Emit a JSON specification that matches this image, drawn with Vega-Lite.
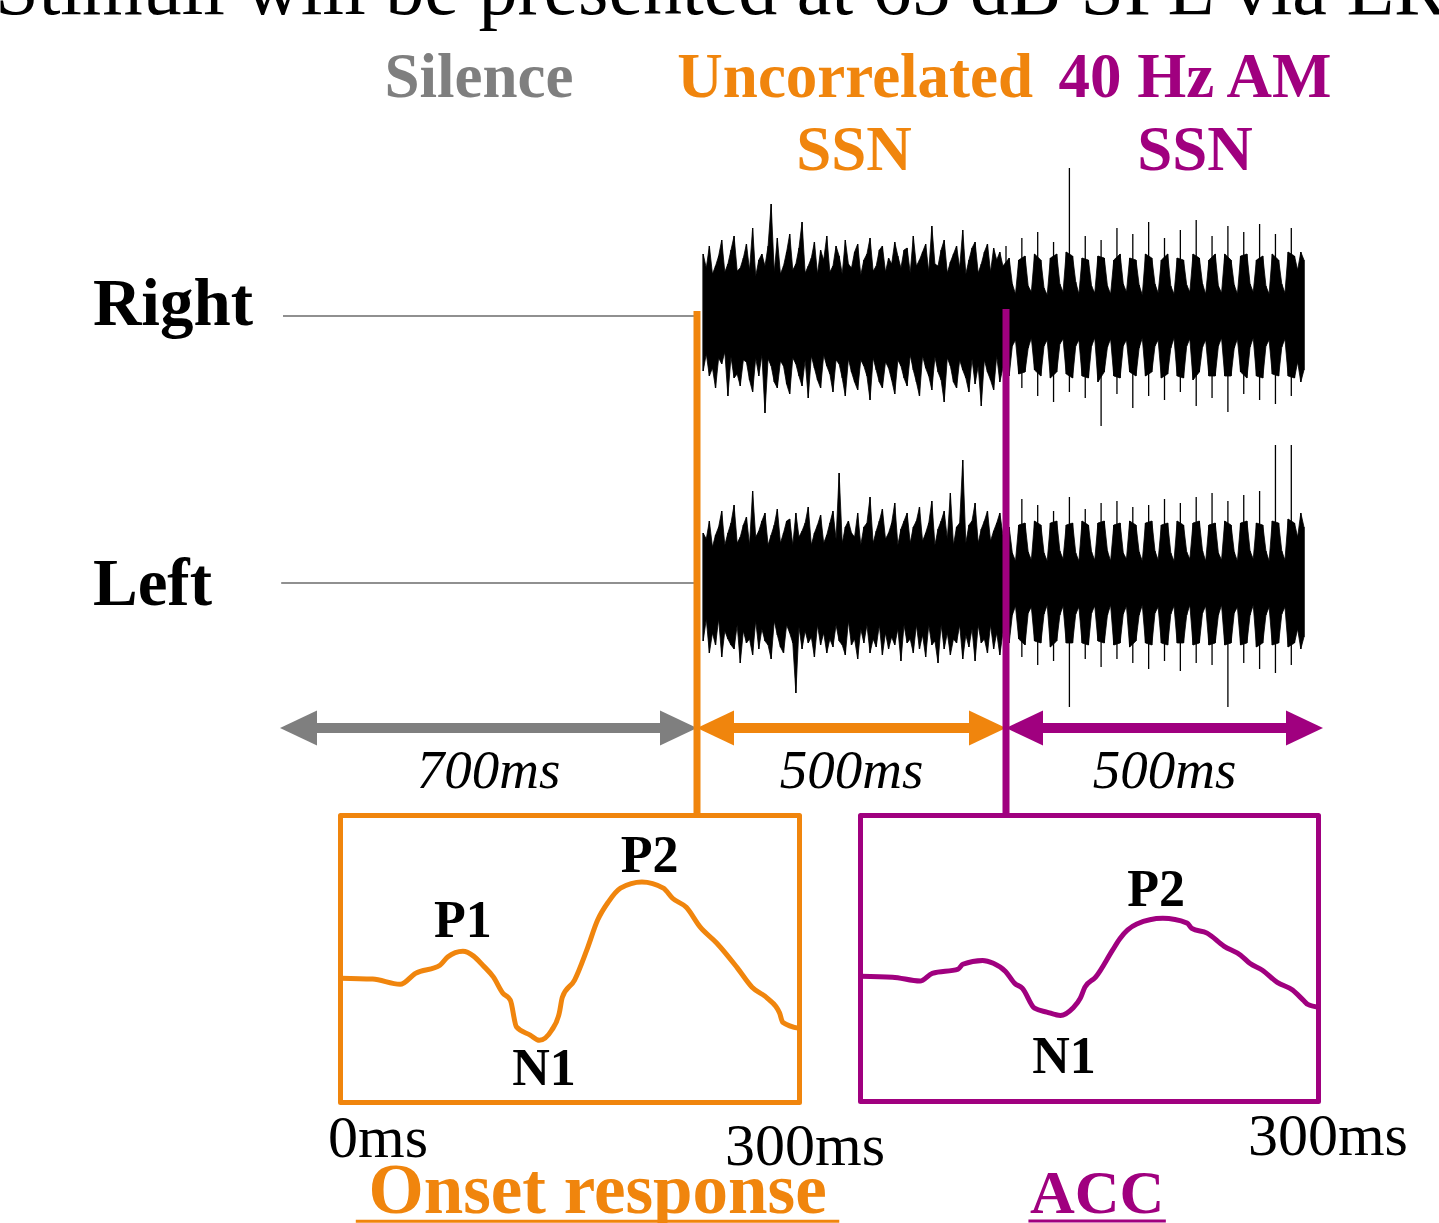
{
"$schema": "https://vega.github.io/schema/vega-lite/v6.json",
"width": 1439, "height": 1223, "padding": 0, "autosize": {"type": "none"},
"background": "white",
"config": {"view": {"stroke": null}, "text": {"font": "Liberation Serif"}},
"resolve": {"scale": {"x": "independent", "y": "independent", "color": "independent", "shape": "independent"}},
"datasets": {
"noise": [
{"ch":"R","t":710,"hi":0.62,"lo":-0.55},{"ch":"R","t":715,"hi":0.48,"lo":-0.38},{"ch":"R","t":720,"hi":0.70,"lo":-0.60},{"ch":"R","t":725,"hi":0.42,"lo":-0.52},{"ch":"R","t":730,"hi":0.50,"lo":-0.72},{"ch":"R","t":735,"hi":0.60,"lo":-0.42},{"ch":"R","t":740,"hi":0.76,"lo":-0.48},{"ch":"R","t":745,"hi":0.44,"lo":-0.36},{"ch":"R","t":750,"hi":0.52,"lo":-0.80},{"ch":"R","t":755,"hi":0.66,"lo":-0.41},
{"ch":"R","t":760,"hi":0.80,"lo":-0.62},{"ch":"R","t":765,"hi":0.45,"lo":-0.58},{"ch":"R","t":770,"hi":0.48,"lo":-0.70},{"ch":"R","t":775,"hi":0.58,"lo":-0.44},{"ch":"R","t":780,"hi":0.72,"lo":-0.46},{"ch":"R","t":785,"hi":0.46,"lo":-0.64},{"ch":"R","t":790,"hi":0.88,"lo":-0.76},{"ch":"R","t":795,"hi":0.40,"lo":-0.42},{"ch":"R","t":800,"hi":0.56,"lo":-0.60},{"ch":"R","t":805,"hi":0.62,"lo":-0.39},
{"ch":"R","t":810,"hi":0.50,"lo":-0.97},{"ch":"R","t":815,"hi":0.70,"lo":-0.43},{"ch":"R","t":820,"hi":1.12,"lo":-0.50},{"ch":"R","t":825,"hi":0.44,"lo":-0.66},{"ch":"R","t":830,"hi":0.78,"lo":-0.72},{"ch":"R","t":835,"hi":0.42,"lo":-0.45},{"ch":"R","t":840,"hi":0.50,"lo":-0.50},{"ch":"R","t":845,"hi":0.64,"lo":-0.68},{"ch":"R","t":850,"hi":0.82,"lo":-0.78},{"ch":"R","t":855,"hi":0.46,"lo":-0.42},
{"ch":"R","t":860,"hi":0.52,"lo":-0.48},{"ch":"R","t":865,"hi":0.68,"lo":-0.60},{"ch":"R","t":870,"hi":0.94,"lo":-0.70},{"ch":"R","t":875,"hi":0.43,"lo":-0.44},{"ch":"R","t":880,"hi":0.50,"lo":-0.82},{"ch":"R","t":885,"hi":0.58,"lo":-0.40},{"ch":"R","t":890,"hi":0.74,"lo":-0.52},{"ch":"R","t":895,"hi":0.42,"lo":-0.64},{"ch":"R","t":900,"hi":0.66,"lo":-0.72},{"ch":"R","t":905,"hi":0.56,"lo":-0.39},
{"ch":"R","t":910,"hi":0.80,"lo":-0.50},{"ch":"R","t":915,"hi":0.44,"lo":-0.58},{"ch":"R","t":920,"hi":0.50,"lo":-0.76},{"ch":"R","t":925,"hi":0.70,"lo":-0.44},{"ch":"R","t":930,"hi":0.60,"lo":-0.48},{"ch":"R","t":935,"hi":0.42,"lo":-0.62},{"ch":"R","t":940,"hi":0.76,"lo":-0.80},{"ch":"R","t":945,"hi":0.52,"lo":-0.43},{"ch":"R","t":950,"hi":0.48,"lo":-0.56},{"ch":"R","t":955,"hi":0.64,"lo":-0.66},
{"ch":"R","t":960,"hi":0.72,"lo":-0.74},{"ch":"R","t":965,"hi":0.41,"lo":-0.44},{"ch":"R","t":970,"hi":0.56,"lo":-0.50},{"ch":"R","t":975,"hi":0.62,"lo":-0.60},{"ch":"R","t":980,"hi":0.78,"lo":-0.84},{"ch":"R","t":985,"hi":0.45,"lo":-0.42},{"ch":"R","t":990,"hi":0.50,"lo":-0.54},{"ch":"R","t":995,"hi":0.66,"lo":-0.66},{"ch":"R","t":1000,"hi":0.70,"lo":-0.72},{"ch":"R","t":1005,"hi":0.44,"lo":-0.46},
{"ch":"R","t":1010,"hi":0.58,"lo":-0.52},{"ch":"R","t":1015,"hi":0.52,"lo":-0.64},{"ch":"R","t":1020,"hi":0.74,"lo":-0.78},{"ch":"R","t":1025,"hi":0.60,"lo":-0.44},{"ch":"R","t":1030,"hi":0.48,"lo":-0.50},{"ch":"R","t":1035,"hi":0.66,"lo":-0.62},{"ch":"R","t":1040,"hi":0.68,"lo":-0.70},{"ch":"R","t":1045,"hi":0.43,"lo":-0.39},{"ch":"R","t":1050,"hi":0.80,"lo":-0.54},{"ch":"R","t":1055,"hi":0.50,"lo":-0.66},
{"ch":"R","t":1060,"hi":0.56,"lo":-0.80},{"ch":"R","t":1065,"hi":0.64,"lo":-0.40},{"ch":"R","t":1070,"hi":0.72,"lo":-0.52},{"ch":"R","t":1075,"hi":0.44,"lo":-0.60},{"ch":"R","t":1080,"hi":0.90,"lo":-0.74},{"ch":"R","t":1085,"hi":0.52,"lo":-0.41},{"ch":"R","t":1090,"hi":0.50,"lo":-0.56},{"ch":"R","t":1095,"hi":0.66,"lo":-0.64},{"ch":"R","t":1100,"hi":0.76,"lo":-0.86},{"ch":"R","t":1105,"hi":0.43,"lo":-0.42},
{"ch":"R","t":1110,"hi":0.54,"lo":-0.50},{"ch":"R","t":1115,"hi":0.62,"lo":-0.66},{"ch":"R","t":1120,"hi":0.70,"lo":-0.72},{"ch":"R","t":1125,"hi":0.48,"lo":-0.44},{"ch":"R","t":1130,"hi":0.86,"lo":-0.54},{"ch":"R","t":1135,"hi":0.42,"lo":-0.62},{"ch":"R","t":1140,"hi":0.56,"lo":-0.76},{"ch":"R","t":1145,"hi":0.68,"lo":-0.43},{"ch":"R","t":1150,"hi":0.74,"lo":-0.68},{"ch":"R","t":1155,"hi":0.43,"lo":-0.50},
{"ch":"R","t":1160,"hi":0.52,"lo":-0.90},{"ch":"R","t":1165,"hi":0.64,"lo":-0.44},{"ch":"R","t":1170,"hi":0.72,"lo":-0.56},{"ch":"R","t":1175,"hi":0.44,"lo":-0.64},{"ch":"R","t":1180,"hi":0.68,"lo":-0.74},{"ch":"R","t":1185,"hi":0.56,"lo":-0.40},{"ch":"R","t":1190,"hi":0.64,"lo":-0.66},{"ch":"R","t":1195,"hi":0.50,"lo":-0.52},
{"ch":"R","t":1200,"hi":0.70,"lo":-0.66},{"ch":"R","t":1205,"hi":0.58,"lo":-0.60},{"ch":"R","t":1210,"hi":0.32,"lo":-0.30},{"ch":"R","t":1215,"hi":0.22,"lo":-0.24},{"ch":"R","t":1220,"hi":0.56,"lo":-0.58},{"ch":"R","t":1225,"hi":0.78,"lo":-0.72},{"ch":"R","t":1230,"hi":0.60,"lo":-0.56},{"ch":"R","t":1235,"hi":0.30,"lo":-0.32},{"ch":"R","t":1240,"hi":0.24,"lo":-0.22},{"ch":"R","t":1245,"hi":0.62,"lo":-0.54},
{"ch":"R","t":1250,"hi":0.84,"lo":-0.80},{"ch":"R","t":1255,"hi":0.56,"lo":-0.60},{"ch":"R","t":1260,"hi":0.28,"lo":-0.30},{"ch":"R","t":1265,"hi":0.21,"lo":-0.24},{"ch":"R","t":1270,"hi":0.58,"lo":-0.62},{"ch":"R","t":1275,"hi":0.74,"lo":-0.86},{"ch":"R","t":1280,"hi":0.62,"lo":-0.56},{"ch":"R","t":1285,"hi":0.32,"lo":-0.28},{"ch":"R","t":1290,"hi":0.24,"lo":-0.23},{"ch":"R","t":1295,"hi":0.64,"lo":-0.58},
{"ch":"R","t":1300,"hi":1.48,"lo":-0.76},{"ch":"R","t":1305,"hi":0.60,"lo":-0.62},{"ch":"R","t":1310,"hi":0.34,"lo":-0.30},{"ch":"R","t":1315,"hi":0.22,"lo":-0.24},{"ch":"R","t":1320,"hi":0.58,"lo":-0.60},{"ch":"R","t":1325,"hi":0.80,"lo":-0.82},{"ch":"R","t":1330,"hi":0.56,"lo":-0.62},{"ch":"R","t":1335,"hi":0.30,"lo":-0.30},{"ch":"R","t":1340,"hi":0.23,"lo":-0.22},{"ch":"R","t":1345,"hi":0.60,"lo":-0.66},
{"ch":"R","t":1350,"hi":0.76,"lo":-1.10},{"ch":"R","t":1355,"hi":0.58,"lo":-0.56},{"ch":"R","t":1360,"hi":0.30,"lo":-0.31},{"ch":"R","t":1365,"hi":0.22,"lo":-0.23},{"ch":"R","t":1370,"hi":0.56,"lo":-0.60},{"ch":"R","t":1375,"hi":0.88,"lo":-0.78},{"ch":"R","t":1380,"hi":0.62,"lo":-0.62},{"ch":"R","t":1385,"hi":0.32,"lo":-0.30},{"ch":"R","t":1390,"hi":0.24,"lo":-0.24},{"ch":"R","t":1395,"hi":0.58,"lo":-0.56},
{"ch":"R","t":1400,"hi":0.82,"lo":-0.92},{"ch":"R","t":1405,"hi":0.56,"lo":-0.60},{"ch":"R","t":1410,"hi":0.31,"lo":-0.32},{"ch":"R","t":1415,"hi":0.21,"lo":-0.22},{"ch":"R","t":1420,"hi":0.62,"lo":-0.60},{"ch":"R","t":1425,"hi":0.94,"lo":-0.80},{"ch":"R","t":1430,"hi":0.58,"lo":-0.56},{"ch":"R","t":1435,"hi":0.32,"lo":-0.30},{"ch":"R","t":1440,"hi":0.23,"lo":-0.24},{"ch":"R","t":1445,"hi":0.56,"lo":-0.62},
{"ch":"R","t":1450,"hi":0.78,"lo":-0.84},{"ch":"R","t":1455,"hi":0.62,"lo":-0.58},{"ch":"R","t":1460,"hi":0.30,"lo":-0.32},{"ch":"R","t":1465,"hi":0.22,"lo":-0.22},{"ch":"R","t":1470,"hi":0.58,"lo":-0.60},{"ch":"R","t":1475,"hi":0.86,"lo":-0.76},{"ch":"R","t":1480,"hi":0.56,"lo":-0.62},{"ch":"R","t":1485,"hi":0.31,"lo":-0.30},{"ch":"R","t":1490,"hi":0.24,"lo":-0.23},{"ch":"R","t":1495,"hi":0.62,"lo":-0.64},
{"ch":"R","t":1500,"hi":0.96,"lo":-0.90},{"ch":"R","t":1505,"hi":0.58,"lo":-0.56},{"ch":"R","t":1510,"hi":0.32,"lo":-0.31},{"ch":"R","t":1515,"hi":0.22,"lo":-0.24},{"ch":"R","t":1520,"hi":0.56,"lo":-0.60},{"ch":"R","t":1525,"hi":0.80,"lo":-0.82},{"ch":"R","t":1530,"hi":0.62,"lo":-0.60},{"ch":"R","t":1535,"hi":0.30,"lo":-0.30},{"ch":"R","t":1540,"hi":0.23,"lo":-0.22},{"ch":"R","t":1545,"hi":0.62,"lo":-0.60},
{"ch":"R","t":1550,"hi":0.90,"lo":-0.96},{"ch":"R","t":1555,"hi":0.56,"lo":-0.60},{"ch":"R","t":1560,"hi":0.31,"lo":-0.32},{"ch":"R","t":1565,"hi":0.22,"lo":-0.23},{"ch":"R","t":1570,"hi":0.60,"lo":-0.56},{"ch":"R","t":1575,"hi":0.84,"lo":-0.78},{"ch":"R","t":1580,"hi":0.62,"lo":-0.62},{"ch":"R","t":1585,"hi":0.32,"lo":-0.31},{"ch":"R","t":1590,"hi":0.24,"lo":-0.22},{"ch":"R","t":1595,"hi":0.56,"lo":-0.60},
{"ch":"R","t":1600,"hi":0.92,"lo":-0.84},{"ch":"R","t":1605,"hi":0.60,"lo":-0.62},{"ch":"R","t":1610,"hi":0.30,"lo":-0.30},{"ch":"R","t":1615,"hi":0.22,"lo":-0.24},{"ch":"R","t":1620,"hi":0.62,"lo":-0.58},{"ch":"R","t":1625,"hi":0.82,"lo":-0.88},{"ch":"R","t":1630,"hi":0.56,"lo":-0.60},{"ch":"R","t":1635,"hi":0.32,"lo":-0.31},{"ch":"R","t":1640,"hi":0.23,"lo":-0.23},{"ch":"R","t":1645,"hi":0.64,"lo":-0.60},
{"ch":"R","t":1650,"hi":0.88,"lo":-0.80},{"ch":"R","t":1655,"hi":0.60,"lo":-0.62},{"ch":"R","t":1660,"hi":0.46,"lo":-0.46},{"ch":"R","t":1665,"hi":0.64,"lo":-0.66},{"ch":"R","t":1670,"hi":0.56,"lo":-0.54},
{"ch":"L","t":710,"hi":0.50,"lo":-0.58},{"ch":"L","t":715,"hi":0.44,"lo":-0.36},{"ch":"L","t":720,"hi":0.62,"lo":-0.70},{"ch":"L","t":725,"hi":0.36,"lo":-0.50},{"ch":"L","t":730,"hi":0.48,"lo":-0.62},{"ch":"L","t":735,"hi":0.56,"lo":-0.36},{"ch":"L","t":740,"hi":0.72,"lo":-0.74},{"ch":"L","t":745,"hi":0.38,"lo":-0.48},{"ch":"L","t":750,"hi":0.50,"lo":-0.56},{"ch":"L","t":755,"hi":0.60,"lo":-0.62},
{"ch":"L","t":760,"hi":0.78,"lo":-0.66},{"ch":"L","t":765,"hi":0.40,"lo":-0.42},{"ch":"L","t":770,"hi":0.46,"lo":-0.80},{"ch":"L","t":775,"hi":0.58,"lo":-0.48},{"ch":"L","t":780,"hi":0.66,"lo":-0.60},{"ch":"L","t":785,"hi":0.38,"lo":-0.56},{"ch":"L","t":790,"hi":0.92,"lo":-0.72},{"ch":"L","t":795,"hi":0.46,"lo":-0.38},{"ch":"L","t":800,"hi":0.52,"lo":-0.66},{"ch":"L","t":805,"hi":0.62,"lo":-0.46},
{"ch":"L","t":810,"hi":0.70,"lo":-0.58},{"ch":"L","t":815,"hi":0.38,"lo":-0.62},{"ch":"L","t":820,"hi":0.48,"lo":-0.76},{"ch":"L","t":825,"hi":0.58,"lo":-0.38},{"ch":"L","t":830,"hi":0.74,"lo":-0.52},{"ch":"L","t":835,"hi":0.40,"lo":-0.64},{"ch":"L","t":840,"hi":0.50,"lo":-0.70},{"ch":"L","t":845,"hi":0.62,"lo":-0.42},{"ch":"L","t":850,"hi":0.64,"lo":-0.50},{"ch":"L","t":855,"hi":0.38,"lo":-0.60},
{"ch":"L","t":860,"hi":0.70,"lo":-1.10},{"ch":"L","t":865,"hi":0.46,"lo":-0.44},{"ch":"L","t":870,"hi":0.52,"lo":-0.66},{"ch":"L","t":875,"hi":0.60,"lo":-0.48},{"ch":"L","t":880,"hi":0.76,"lo":-0.60},{"ch":"L","t":885,"hi":0.38,"lo":-0.54},{"ch":"L","t":890,"hi":0.50,"lo":-0.74},{"ch":"L","t":895,"hi":0.58,"lo":-0.42},{"ch":"L","t":900,"hi":0.68,"lo":-0.62},{"ch":"L","t":905,"hi":0.40,"lo":-0.50},
{"ch":"L","t":910,"hi":0.48,"lo":-0.70},{"ch":"L","t":915,"hi":0.60,"lo":-0.56},{"ch":"L","t":920,"hi":0.72,"lo":-0.64},{"ch":"L","t":925,"hi":0.44,"lo":-0.42},{"ch":"L","t":930,"hi":1.10,"lo":-0.58},{"ch":"L","t":935,"hi":0.40,"lo":-0.62},{"ch":"L","t":940,"hi":0.56,"lo":-0.72},{"ch":"L","t":945,"hi":0.62,"lo":-0.38},{"ch":"L","t":950,"hi":0.50,"lo":-0.62},{"ch":"L","t":955,"hi":0.46,"lo":-0.56},
{"ch":"L","t":960,"hi":0.70,"lo":-0.76},{"ch":"L","t":965,"hi":0.38,"lo":-0.46},{"ch":"L","t":970,"hi":0.56,"lo":-0.60},{"ch":"L","t":975,"hi":0.60,"lo":-0.42},{"ch":"L","t":980,"hi":0.86,"lo":-0.70},{"ch":"L","t":985,"hi":0.40,"lo":-0.56},{"ch":"L","t":990,"hi":0.52,"lo":-0.64},{"ch":"L","t":995,"hi":0.62,"lo":-0.42},{"ch":"L","t":1000,"hi":0.74,"lo":-0.72},{"ch":"L","t":1005,"hi":0.44,"lo":-0.50},
{"ch":"L","t":1010,"hi":0.50,"lo":-0.66},{"ch":"L","t":1015,"hi":0.60,"lo":-0.54},{"ch":"L","t":1020,"hi":0.80,"lo":-0.62},{"ch":"L","t":1025,"hi":0.38,"lo":-0.46},{"ch":"L","t":1030,"hi":0.54,"lo":-0.78},{"ch":"L","t":1035,"hi":0.62,"lo":-0.42},{"ch":"L","t":1040,"hi":0.70,"lo":-0.60},{"ch":"L","t":1045,"hi":0.40,"lo":-0.56},{"ch":"L","t":1050,"hi":0.56,"lo":-0.70},{"ch":"L","t":1055,"hi":0.62,"lo":-0.42},
{"ch":"L","t":1060,"hi":0.76,"lo":-0.66},{"ch":"L","t":1065,"hi":0.42,"lo":-0.52},{"ch":"L","t":1070,"hi":0.50,"lo":-0.74},{"ch":"L","t":1075,"hi":0.60,"lo":-0.42},{"ch":"L","t":1080,"hi":0.82,"lo":-0.62},{"ch":"L","t":1085,"hi":0.38,"lo":-0.58},{"ch":"L","t":1090,"hi":0.54,"lo":-0.80},{"ch":"L","t":1095,"hi":0.62,"lo":-0.42},{"ch":"L","t":1100,"hi":0.72,"lo":-0.66},{"ch":"L","t":1105,"hi":0.44,"lo":-0.50},
{"ch":"L","t":1110,"hi":0.90,"lo":-0.72},{"ch":"L","t":1115,"hi":0.38,"lo":-0.56},{"ch":"L","t":1120,"hi":0.56,"lo":-0.60},{"ch":"L","t":1125,"hi":0.60,"lo":-0.42},{"ch":"L","t":1130,"hi":1.23,"lo":-0.76},{"ch":"L","t":1135,"hi":0.40,"lo":-0.52},{"ch":"L","t":1140,"hi":0.58,"lo":-0.64},{"ch":"L","t":1145,"hi":0.62,"lo":-0.46},{"ch":"L","t":1150,"hi":0.80,"lo":-0.78},{"ch":"L","t":1155,"hi":0.40,"lo":-0.42},
{"ch":"L","t":1160,"hi":0.54,"lo":-0.60},{"ch":"L","t":1165,"hi":0.62,"lo":-0.56},{"ch":"L","t":1170,"hi":0.72,"lo":-0.70},{"ch":"L","t":1175,"hi":0.42,"lo":-0.42},{"ch":"L","t":1180,"hi":0.52,"lo":-0.66},{"ch":"L","t":1185,"hi":0.60,"lo":-0.50},{"ch":"L","t":1190,"hi":0.70,"lo":-0.72},{"ch":"L","t":1195,"hi":0.48,"lo":-0.50},
{"ch":"L","t":1200,"hi":0.66,"lo":-0.62},{"ch":"L","t":1205,"hi":0.56,"lo":-0.60},{"ch":"L","t":1210,"hi":0.30,"lo":-0.32},{"ch":"L","t":1215,"hi":0.22,"lo":-0.23},{"ch":"L","t":1220,"hi":0.58,"lo":-0.56},{"ch":"L","t":1225,"hi":0.84,"lo":-0.74},{"ch":"L","t":1230,"hi":0.60,"lo":-0.62},{"ch":"L","t":1235,"hi":0.31,"lo":-0.30},{"ch":"L","t":1240,"hi":0.23,"lo":-0.24},{"ch":"L","t":1245,"hi":0.62,"lo":-0.58},
{"ch":"L","t":1250,"hi":0.78,"lo":-0.82},{"ch":"L","t":1255,"hi":0.58,"lo":-0.60},{"ch":"L","t":1260,"hi":0.30,"lo":-0.31},{"ch":"L","t":1265,"hi":0.22,"lo":-0.22},{"ch":"L","t":1270,"hi":0.60,"lo":-0.64},{"ch":"L","t":1275,"hi":0.72,"lo":-0.78},{"ch":"L","t":1280,"hi":0.62,"lo":-0.58},{"ch":"L","t":1285,"hi":0.32,"lo":-0.32},{"ch":"L","t":1290,"hi":0.24,"lo":-0.23},{"ch":"L","t":1295,"hi":0.58,"lo":-0.60},
{"ch":"L","t":1300,"hi":0.86,"lo":-1.24},{"ch":"L","t":1305,"hi":0.60,"lo":-0.60},{"ch":"L","t":1310,"hi":0.30,"lo":-0.31},{"ch":"L","t":1315,"hi":0.22,"lo":-0.24},{"ch":"L","t":1320,"hi":0.62,"lo":-0.60},{"ch":"L","t":1325,"hi":0.74,"lo":-0.76},{"ch":"L","t":1330,"hi":0.58,"lo":-0.62},{"ch":"L","t":1335,"hi":0.31,"lo":-0.30},{"ch":"L","t":1340,"hi":0.23,"lo":-0.23},{"ch":"L","t":1345,"hi":0.60,"lo":-0.58},
{"ch":"L","t":1350,"hi":0.80,"lo":-0.84},{"ch":"L","t":1355,"hi":0.62,"lo":-0.60},{"ch":"L","t":1360,"hi":0.32,"lo":-0.32},{"ch":"L","t":1365,"hi":0.22,"lo":-0.22},{"ch":"L","t":1370,"hi":0.58,"lo":-0.62},{"ch":"L","t":1375,"hi":0.82,"lo":-0.76},{"ch":"L","t":1380,"hi":0.60,"lo":-0.60},{"ch":"L","t":1385,"hi":0.30,"lo":-0.31},{"ch":"L","t":1390,"hi":0.24,"lo":-0.23},{"ch":"L","t":1395,"hi":0.62,"lo":-0.64},
{"ch":"L","t":1400,"hi":0.76,"lo":-0.80},{"ch":"L","t":1405,"hi":0.58,"lo":-0.58},{"ch":"L","t":1410,"hi":0.31,"lo":-0.32},{"ch":"L","t":1415,"hi":0.22,"lo":-0.22},{"ch":"L","t":1420,"hi":0.60,"lo":-0.60},{"ch":"L","t":1425,"hi":0.78,"lo":-0.86},{"ch":"L","t":1430,"hi":0.62,"lo":-0.62},{"ch":"L","t":1435,"hi":0.32,"lo":-0.30},{"ch":"L","t":1440,"hi":0.23,"lo":-0.24},{"ch":"L","t":1445,"hi":0.58,"lo":-0.60},
{"ch":"L","t":1450,"hi":0.84,"lo":-0.78},{"ch":"L","t":1455,"hi":0.60,"lo":-0.62},{"ch":"L","t":1460,"hi":0.30,"lo":-0.31},{"ch":"L","t":1465,"hi":0.22,"lo":-0.23},{"ch":"L","t":1470,"hi":0.62,"lo":-0.60},{"ch":"L","t":1475,"hi":0.80,"lo":-0.88},{"ch":"L","t":1480,"hi":0.58,"lo":-0.60},{"ch":"L","t":1485,"hi":0.31,"lo":-0.32},{"ch":"L","t":1490,"hi":0.24,"lo":-0.22},{"ch":"L","t":1495,"hi":0.60,"lo":-0.62},
{"ch":"L","t":1500,"hi":0.86,"lo":-0.80},{"ch":"L","t":1505,"hi":0.62,"lo":-0.60},{"ch":"L","t":1510,"hi":0.32,"lo":-0.30},{"ch":"L","t":1515,"hi":0.22,"lo":-0.23},{"ch":"L","t":1520,"hi":0.58,"lo":-0.62},{"ch":"L","t":1525,"hi":0.90,"lo":-0.82},{"ch":"L","t":1530,"hi":0.60,"lo":-0.60},{"ch":"L","t":1535,"hi":0.30,"lo":-0.32},{"ch":"L","t":1540,"hi":0.23,"lo":-0.22},{"ch":"L","t":1545,"hi":0.62,"lo":-0.62},
{"ch":"L","t":1550,"hi":0.82,"lo":-1.24},{"ch":"L","t":1555,"hi":0.58,"lo":-0.60},{"ch":"L","t":1560,"hi":0.31,"lo":-0.30},{"ch":"L","t":1565,"hi":0.22,"lo":-0.24},{"ch":"L","t":1570,"hi":0.60,"lo":-0.62},{"ch":"L","t":1575,"hi":0.88,"lo":-0.80},{"ch":"L","t":1580,"hi":0.62,"lo":-0.60},{"ch":"L","t":1585,"hi":0.32,"lo":-0.32},{"ch":"L","t":1590,"hi":0.24,"lo":-0.22},{"ch":"L","t":1595,"hi":0.60,"lo":-0.64},
{"ch":"L","t":1600,"hi":0.92,"lo":-0.86},{"ch":"L","t":1605,"hi":0.58,"lo":-0.60},{"ch":"L","t":1610,"hi":0.32,"lo":-0.32},{"ch":"L","t":1615,"hi":0.22,"lo":-0.24},{"ch":"L","t":1620,"hi":0.62,"lo":-0.62},{"ch":"L","t":1625,"hi":1.38,"lo":-0.90},{"ch":"L","t":1630,"hi":0.60,"lo":-0.60},{"ch":"L","t":1635,"hi":0.32,"lo":-0.31},{"ch":"L","t":1640,"hi":0.23,"lo":-0.24},{"ch":"L","t":1645,"hi":0.64,"lo":-0.64},
{"ch":"L","t":1650,"hi":1.38,"lo":-0.82},{"ch":"L","t":1655,"hi":0.60,"lo":-0.60},{"ch":"L","t":1660,"hi":0.46,"lo":-0.46},{"ch":"L","t":1665,"hi":0.70,"lo":-0.66},{"ch":"L","t":1670,"hi":0.56,"lo":-0.54}
],
"onset": [
{"t":0,"uv":0},{"t":21,"uv":-0.02},{"t":39,"uv":-0.13},{"t":49,"uv":0.10},{"t":65,"uv":0.27},{"t":70,"uv":0.44},{"t":80,"uv":0.56},{"t":87,"uv":0.46},{"t":93,"uv":0.27},{"t":100,"uv":0.02},{"t":106,"uv":-0.31},{"t":111,"uv":-0.46},{"t":115,"uv":-1.02},{"t":124,"uv":-1.19},{"t":130,"uv":-1.30},{"t":138,"uv":-1.09},{"t":143,"uv":-0.73},{"t":145,"uv":-0.40},{"t":153,"uv":-0.04},{"t":161,"uv":0.59},{"t":168,"uv":1.21},{"t":175,"uv":1.59},{"t":183,"uv":1.88},{"t":197,"uv":2.01},{"t":211,"uv":1.88},{"t":217,"uv":1.67},{"t":226,"uv":1.48},{"t":235,"uv":1.07},{"t":246,"uv":0.73},{"t":259,"uv":0.23},{"t":269,"uv":-0.19},{"t":279,"uv":-0.42},{"t":287,"uv":-0.73},{"t":289,"uv":-0.92},{"t":300,"uv":-1.05}
],
"acc": [
{"t":0,"uv":0},{"t":21,"uv":-0.02},{"t":39,"uv":-0.10},{"t":47,"uv":0.06},{"t":64,"uv":0.15},{"t":67,"uv":0.25},{"t":80,"uv":0.33},{"t":87,"uv":0.27},{"t":95,"uv":0.10},{"t":101,"uv":-0.15},{"t":106,"uv":-0.25},{"t":114,"uv":-0.67},{"t":122,"uv":-0.75},{"t":131,"uv":-0.82},{"t":139,"uv":-0.67},{"t":144,"uv":-0.46},{"t":147,"uv":-0.23},{"t":154,"uv":-0.02},{"t":165,"uv":0.54},{"t":170,"uv":0.79},{"t":181,"uv":1.09},{"t":198,"uv":1.21},{"t":214,"uv":1.11},{"t":217,"uv":1.00},{"t":227,"uv":0.90},{"t":238,"uv":0.63},{"t":249,"uv":0.44},{"t":255,"uv":0.27},{"t":263,"uv":0.13},{"t":273,"uv":-0.13},{"t":283,"uv":-0.29},{"t":290,"uv":-0.50},{"t":293,"uv":-0.59},{"t":300,"uv":-0.65}
]
},
"layer": [
{"data": {"name": "noise"}, "transform": [{"filter": "datum.ch === 'R' && (datum.t < 1200 || datum.t % 25 !== 0)"}],
 "mark": {"type": "area", "color": "black", "stroke": "black", "strokeWidth": 0.8, "interpolate": "linear"},
 "encoding": {
  "x": {"field": "t", "type": "quantitative", "scale": {"domain": [0, 700, 1200, 1700], "range": [280, 697, 1006, 1323], "zero": false, "nice": false}, "axis": null},
  "y": {"field": "hi", "type": "quantitative", "scale": {"domain": [-1.5, 1.5], "range": [466, 166], "zero": false, "nice": false}, "axis": null},
  "y2": {"field": "lo"}}},
{"data": {"name": "noise"}, "transform": [{"filter": "datum.ch === 'R'"}],
 "mark": {"type": "rule", "color": "black", "strokeWidth": 1.3},
 "encoding": {
  "x": {"field": "t", "type": "quantitative", "scale": {"domain": [0, 700, 1200, 1700], "range": [280, 697, 1006, 1323], "zero": false, "nice": false}, "axis": null},
  "y": {"field": "hi", "type": "quantitative", "scale": {"domain": [-1.5, 1.5], "range": [466, 166], "zero": false, "nice": false}, "axis": null},
  "y2": {"field": "lo"}}},
{"data": {"name": "noise"}, "transform": [{"filter": "datum.ch === 'L' && (datum.t < 1200 || datum.t % 25 !== 0)"}],
 "mark": {"type": "area", "color": "black", "stroke": "black", "strokeWidth": 0.8, "interpolate": "linear"},
 "encoding": {
  "x": {"field": "t", "type": "quantitative", "scale": {"domain": [0, 700, 1200, 1700], "range": [280, 697, 1006, 1323], "zero": false, "nice": false}, "axis": null},
  "y": {"field": "hi", "type": "quantitative", "scale": {"domain": [-1.5, 1.5], "range": [733, 433], "zero": false, "nice": false}, "axis": null},
  "y2": {"field": "lo"}}},
{"data": {"name": "noise"}, "transform": [{"filter": "datum.ch === 'L'"}],
 "mark": {"type": "rule", "color": "black", "strokeWidth": 1.3},
 "encoding": {
  "x": {"field": "t", "type": "quantitative", "scale": {"domain": [0, 700, 1200, 1700], "range": [280, 697, 1006, 1323], "zero": false, "nice": false}, "axis": null},
  "y": {"field": "hi", "type": "quantitative", "scale": {"domain": [-1.5, 1.5], "range": [733, 433], "zero": false, "nice": false}, "axis": null},
  "y2": {"field": "lo"}}},
{"data": {"values": [{"t0": 5, "t1": 700, "y": 316}, {"t0": 2, "t1": 700, "y": 583}]},
 "mark": {"type": "rule", "color": "#222222", "strokeWidth": 1.1},
 "encoding": {
  "x": {"field": "t0", "type": "quantitative", "scale": {"domain": [0, 700, 1200, 1700], "range": [280, 697, 1006, 1323], "zero": false, "nice": false}, "axis": null},
  "x2": {"field": "t1"},
  "y": {"field": "y", "type": "quantitative", "scale": {"domain": [0, 1223], "range": [0, 1223], "zero": false, "nice": false}, "axis": null}}},
{"data": {"values": [{"seg": "Silence", "t0": 0, "t1": 700, "y": 728}, {"seg": "Uncorrelated", "t0": 700, "t1": 1200, "y": 728}, {"seg": "AM", "t0": 1200, "t1": 1700, "y": 728}]},
 "mark": {"type": "rule", "strokeWidth": 10, "strokeCap": "butt", "xOffset": 20, "x2Offset": -20},
 "encoding": {
  "x": {"field": "t0", "type": "quantitative", "scale": {"domain": [0, 700, 1200, 1700], "range": [280, 697, 1006, 1323], "zero": false, "nice": false}, "axis": null},
  "x2": {"field": "t1"},
  "y": {"field": "y", "type": "quantitative", "scale": {"domain": [0, 1223], "range": [0, 1223], "zero": false, "nice": false}, "axis": null},
  "color": {"field": "seg", "type": "nominal", "scale": {"domain": ["Silence", "Uncorrelated", "AM"], "range": ["#7F7F7F", "#F0850D", "#A0007F"]}, "legend": null}}},
{"data": {"values": [{"seg": "Silence", "t": 0, "dir": "L", "y": 728}, {"seg": "Silence", "t": 700, "dir": "R", "y": 728}, {"seg": "Uncorrelated", "t": 700, "dir": "L", "y": 728}, {"seg": "Uncorrelated", "t": 1200, "dir": "R", "y": 728}, {"seg": "AM", "t": 1200, "dir": "L", "y": 728}, {"seg": "AM", "t": 1700, "dir": "R", "y": 728}]},
 "mark": {"type": "point", "filled": true, "opacity": 1, "size": 1369, "strokeWidth": 0},
 "encoding": {
  "x": {"field": "t", "type": "quantitative", "scale": {"domain": [0, 700, 1200, 1700], "range": [280, 697, 1006, 1323], "zero": false, "nice": false}, "axis": null},
  "y": {"field": "y", "type": "quantitative", "scale": {"domain": [0, 1223], "range": [0, 1223], "zero": false, "nice": false}, "axis": null},
  "shape": {"field": "dir", "type": "nominal", "scale": {"domain": ["L", "R"], "range": ["M0,0L2,-0.95L2,0.95Z", "M0,0L-2,-0.95L-2,0.95Z"]}, "legend": null},
  "color": {"field": "seg", "type": "nominal", "scale": {"domain": ["Silence", "Uncorrelated", "AM"], "range": ["#7F7F7F", "#F0850D", "#A0007F"]}, "legend": null}}},
{"data": {"values": [{"seg": "Uncorrelated", "t": 700, "y0": 311, "y1": 816}, {"seg": "AM", "t": 1200, "y0": 309, "y1": 816}]},
 "mark": {"type": "rule", "strokeWidth": 7, "strokeCap": "butt"},
 "encoding": {
  "x": {"field": "t", "type": "quantitative", "scale": {"domain": [0, 700, 1200, 1700], "range": [280, 697, 1006, 1323], "zero": false, "nice": false}, "axis": null},
  "y": {"field": "y0", "type": "quantitative", "scale": {"domain": [0, 1223], "range": [0, 1223], "zero": false, "nice": false}, "axis": null},
  "y2": {"field": "y1"},
  "color": {"field": "seg", "type": "nominal", "scale": {"domain": ["Silence", "Uncorrelated", "AM"], "range": ["#7F7F7F", "#F0850D", "#A0007F"]}, "legend": null}}},
{"data": {"values": [{"seg": "Silence", "label": "Silence", "t": 334, "y": 97}, {"seg": "Uncorrelated", "label": "Uncorrelated", "t": 956, "y": 97}, {"seg": "Uncorrelated", "label": "SSN", "t": 954, "y": 170}, {"seg": "AM", "label": "40 Hz AM", "t": 1498, "y": 97}, {"seg": "AM", "label": "SSN", "t": 1498, "y": 170}]},
 "mark": {"type": "text", "font": "Liberation Serif", "fontWeight": "bold", "fontSize": 63, "align": "center", "baseline": "alphabetic"},
 "encoding": {
  "x": {"field": "t", "type": "quantitative", "scale": {"domain": [0, 700, 1200, 1700], "range": [280, 697, 1006, 1323], "zero": false, "nice": false}, "axis": null},
  "y": {"field": "y", "type": "quantitative", "scale": {"domain": [0, 1223], "range": [0, 1223], "zero": false, "nice": false}, "axis": null},
  "text": {"field": "label"},
  "color": {"field": "seg", "type": "nominal", "scale": {"domain": ["Silence", "Uncorrelated", "AM"], "range": ["#7F7F7F", "#F0850D", "#A0007F"]}, "legend": null}}},
{"data": {"values": [{"label": "Right", "t": -314, "y": 325}, {"label": "Left", "t": -314, "y": 605}]},
 "mark": {"type": "text", "font": "Liberation Serif", "fontWeight": "bold", "fontSize": 67, "align": "left", "baseline": "alphabetic", "color": "black"},
 "encoding": {
  "x": {"field": "t", "type": "quantitative", "scale": {"domain": [0, 700, 1200, 1700], "range": [280, 697, 1006, 1323], "zero": false, "nice": false}, "axis": null},
  "y": {"field": "y", "type": "quantitative", "scale": {"domain": [0, 1223], "range": [0, 1223], "zero": false, "nice": false}, "axis": null},
  "text": {"field": "label"}}},
{"data": {"values": [{"label": "700ms", "t": 350, "y": 788}, {"label": "500ms", "t": 950, "y": 788}, {"label": "500ms", "t": 1450, "y": 788}]},
 "mark": {"type": "text", "font": "Liberation Serif", "fontStyle": "italic", "fontSize": 55, "align": "center", "baseline": "alphabetic", "color": "black"},
 "encoding": {
  "x": {"field": "t", "type": "quantitative", "scale": {"domain": [0, 700, 1200, 1700], "range": [280, 697, 1006, 1323], "zero": false, "nice": false}, "axis": null},
  "y": {"field": "y", "type": "quantitative", "scale": {"domain": [0, 1223], "range": [0, 1223], "zero": false, "nice": false}, "axis": null},
  "text": {"field": "label"}}},
{"data": {"values": [{"label": "Stimuli will be presented at 65 dB SPL via ER-3A insert earphones", "t": -478, "y": 14}]},
 "mark": {"type": "text", "font": "Liberation Serif", "fontSize": 78, "align": "left", "baseline": "alphabetic", "color": "black"},
 "encoding": {
  "x": {"field": "t", "type": "quantitative", "scale": {"domain": [0, 700, 1200, 1700], "range": [280, 697, 1006, 1323], "zero": false, "nice": false}, "axis": null},
  "y": {"field": "y", "type": "quantitative", "scale": {"domain": [0, 1223], "range": [0, 1223], "zero": false, "nice": false}, "axis": null},
  "text": {"field": "label"}}},
{"data": {"values": [{"t0": 0, "t1": 300, "v0": -2.6, "v1": 3.4}]},
 "mark": {"type": "rect", "filled": false, "stroke": "#F0850D", "strokeWidth": 5, "strokeJoin": "round"},
 "encoding": {
  "x": {"field": "t0", "type": "quantitative", "scale": {"domain": [0, 300], "range": [340.5, 799.5], "zero": false, "nice": false}, "axis": null},
  "x2": {"field": "t1"},
  "y": {"field": "v0", "type": "quantitative", "scale": {"domain": [-2.6, 3.4], "range": [1102.5, 815.5], "zero": false, "nice": false}, "axis": null},
  "y2": {"field": "v1"}}},
{"data": {"name": "onset"},
 "mark": {"type": "line", "color": "#F0850D", "strokeWidth": 5, "strokeJoin": "round", "strokeCap": "round", "interpolate": "monotone"},
 "encoding": {
  "x": {"field": "t", "type": "quantitative", "scale": {"domain": [0, 300], "range": [340.5, 799.5], "zero": false, "nice": false}, "axis": null},
  "y": {"field": "uv", "type": "quantitative", "scale": {"domain": [-2.6, 3.4], "range": [1102.5, 815.5], "zero": false, "nice": false}, "axis": null}}},
{"data": {"values": [{"label": "P1", "t": 80, "uv": 0.86}, {"label": "N1", "t": 133, "uv": -2.24}, {"label": "P2", "t": 202, "uv": 2.22}]},
 "mark": {"type": "text", "font": "Liberation Serif", "fontWeight": "bold", "fontSize": 52, "align": "center", "baseline": "alphabetic", "color": "black"},
 "encoding": {
  "x": {"field": "t", "type": "quantitative", "scale": {"domain": [0, 300], "range": [340.5, 799.5], "zero": false, "nice": false}, "axis": null},
  "y": {"field": "uv", "type": "quantitative", "scale": {"domain": [-2.6, 3.4], "range": [1102.5, 815.5], "zero": false, "nice": false}, "axis": null},
  "text": {"field": "label"}}},
{"data": {"values": [{"label": "0ms", "t": 24.5, "uv": -3.74}, {"label": "300ms", "t": 303.6, "uv": -3.91}]},
 "mark": {"type": "text", "font": "Liberation Serif", "fontSize": 60, "align": "center", "baseline": "alphabetic", "color": "black"},
 "encoding": {
  "x": {"field": "t", "type": "quantitative", "scale": {"domain": [0, 300], "range": [340.5, 799.5], "zero": false, "nice": false}, "axis": null},
  "y": {"field": "uv", "type": "quantitative", "scale": {"domain": [-2.6, 3.4], "range": [1102.5, 815.5], "zero": false, "nice": false}, "axis": null},
  "text": {"field": "label"}}},
{"data": {"values": [{"label": "Onset response", "t": 168, "uv": -4.91}]},
 "mark": {"type": "text", "font": "Liberation Serif", "fontWeight": "bold", "fontSize": 71, "align": "center", "baseline": "alphabetic", "color": "#F0850D"},
 "encoding": {
  "x": {"field": "t", "type": "quantitative", "scale": {"domain": [0, 300], "range": [340.5, 799.5], "zero": false, "nice": false}, "axis": null},
  "y": {"field": "uv", "type": "quantitative", "scale": {"domain": [-2.6, 3.4], "range": [1102.5, 815.5], "zero": false, "nice": false}, "axis": null},
  "text": {"field": "label"}}},
{"data": {"values": [{"t0": 10, "t1": 326, "uv": -5.08}]},
 "mark": {"type": "rule", "color": "#F0850D", "strokeWidth": 3},
 "encoding": {
  "x": {"field": "t0", "type": "quantitative", "scale": {"domain": [0, 300], "range": [340.5, 799.5], "zero": false, "nice": false}, "axis": null},
  "x2": {"field": "t1"},
  "y": {"field": "uv", "type": "quantitative", "scale": {"domain": [-2.6, 3.4], "range": [1102.5, 815.5], "zero": false, "nice": false}, "axis": null}}},
{"data": {"values": [{"t0": 0, "t1": 300, "v0": -2.62, "v1": 3.36}]},
 "mark": {"type": "rect", "filled": false, "stroke": "#A0007F", "strokeWidth": 5, "strokeJoin": "round"},
 "encoding": {
  "x": {"field": "t0", "type": "quantitative", "scale": {"domain": [0, 300], "range": [860.5, 1318.5], "zero": false, "nice": false}, "axis": null},
  "x2": {"field": "t1"},
  "y": {"field": "v0", "type": "quantitative", "scale": {"domain": [-2.62, 3.36], "range": [1101.5, 815.5], "zero": false, "nice": false}, "axis": null},
  "y2": {"field": "v1"}}},
{"data": {"name": "acc"},
 "mark": {"type": "line", "color": "#A0007F", "strokeWidth": 5, "strokeJoin": "round", "strokeCap": "round", "interpolate": "monotone"},
 "encoding": {
  "x": {"field": "t", "type": "quantitative", "scale": {"domain": [0, 300], "range": [860.5, 1318.5], "zero": false, "nice": false}, "axis": null},
  "y": {"field": "uv", "type": "quantitative", "scale": {"domain": [-2.62, 3.36], "range": [1101.5, 815.5], "zero": false, "nice": false}, "axis": null}}},
{"data": {"values": [{"label": "P2", "t": 193.6, "uv": 1.46}, {"label": "N1", "t": 133.3, "uv": -2.03}]},
 "mark": {"type": "text", "font": "Liberation Serif", "fontWeight": "bold", "fontSize": 52, "align": "center", "baseline": "alphabetic", "color": "black"},
 "encoding": {
  "x": {"field": "t", "type": "quantitative", "scale": {"domain": [0, 300], "range": [860.5, 1318.5], "zero": false, "nice": false}, "axis": null},
  "y": {"field": "uv", "type": "quantitative", "scale": {"domain": [-2.62, 3.36], "range": [1101.5, 815.5], "zero": false, "nice": false}, "axis": null},
  "text": {"field": "label"}}},
{"data": {"values": [{"label": "300ms", "t": 306.2, "uv": -3.74}]},
 "mark": {"type": "text", "font": "Liberation Serif", "fontSize": 60, "align": "center", "baseline": "alphabetic", "color": "black"},
 "encoding": {
  "x": {"field": "t", "type": "quantitative", "scale": {"domain": [0, 300], "range": [860.5, 1318.5], "zero": false, "nice": false}, "axis": null},
  "y": {"field": "uv", "type": "quantitative", "scale": {"domain": [-2.62, 3.36], "range": [1101.5, 815.5], "zero": false, "nice": false}, "axis": null},
  "text": {"field": "label"}}},
{"data": {"values": [{"label": "ACC", "t": 155, "uv": -4.95}]},
 "mark": {"type": "text", "font": "Liberation Serif", "fontWeight": "bold", "fontSize": 62, "align": "center", "baseline": "alphabetic", "color": "#A0007F"},
 "encoding": {
  "x": {"field": "t", "type": "quantitative", "scale": {"domain": [0, 300], "range": [860.5, 1318.5], "zero": false, "nice": false}, "axis": null},
  "y": {"field": "uv", "type": "quantitative", "scale": {"domain": [-2.62, 3.36], "range": [1101.5, 815.5], "zero": false, "nice": false}, "axis": null},
  "text": {"field": "label"}}},
{"data": {"values": [{"t0": 110, "t1": 200, "uv": -5.12}]},
 "mark": {"type": "rule", "color": "#A0007F", "strokeWidth": 3},
 "encoding": {
  "x": {"field": "t0", "type": "quantitative", "scale": {"domain": [0, 300], "range": [860.5, 1318.5], "zero": false, "nice": false}, "axis": null},
  "x2": {"field": "t1"},
  "y": {"field": "uv", "type": "quantitative", "scale": {"domain": [-2.62, 3.36], "range": [1101.5, 815.5], "zero": false, "nice": false}, "axis": null}}}
]
}
